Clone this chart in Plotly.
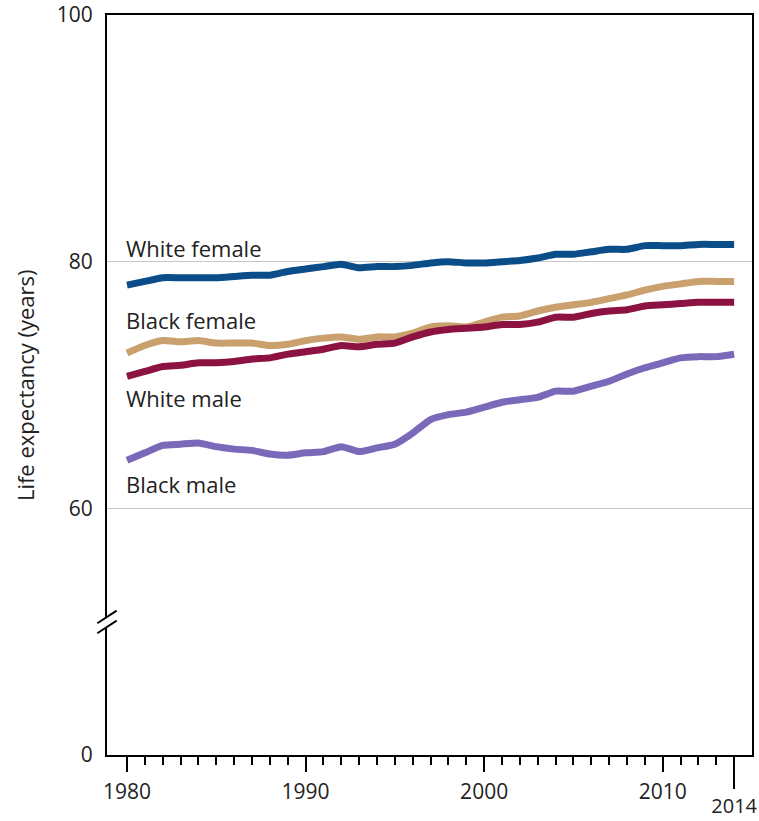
import plotly.graph_objects as go

years = list(range(1980, 2015))
white_female = [78.1, 78.4, 78.7, 78.7, 78.7, 78.7, 78.8, 78.9, 78.9, 79.2,
                79.4, 79.6, 79.8, 79.5, 79.6, 79.6, 79.7, 79.9, 80.0, 79.9,
                79.9, 80.0, 80.1, 80.3, 80.6, 80.6, 80.8, 81.0, 81.0, 81.3,
                81.3, 81.3, 81.4, 81.4, 81.4]
black_female = [72.6, 73.2, 73.6, 73.5, 73.6, 73.4, 73.4, 73.4, 73.2, 73.3,
                73.6, 73.8, 73.9, 73.7, 73.9, 73.9, 74.2, 74.7, 74.8, 74.7,
                75.1, 75.5, 75.6, 76.0, 76.3, 76.5, 76.7, 77.0, 77.3, 77.7,
                78.0, 78.2, 78.4, 78.4, 78.4]
white_male = [70.7, 71.1, 71.5, 71.6, 71.8, 71.8, 71.9, 72.1, 72.2, 72.5,
              72.7, 72.9, 73.2, 73.1, 73.3, 73.4, 73.9, 74.3, 74.5, 74.6,
              74.7, 74.9, 74.9, 75.1, 75.5, 75.5, 75.8, 76.0, 76.1, 76.4,
              76.5, 76.6, 76.7, 76.7, 76.7]
black_male = [63.9, 64.5, 65.1, 65.2, 65.3, 65.0, 64.8, 64.7, 64.4, 64.3,
              64.5, 64.6, 65.0, 64.6, 64.9, 65.2, 66.1, 67.2, 67.6, 67.8,
              68.2, 68.6, 68.8, 69.0, 69.5, 69.5, 69.9, 70.3, 70.9, 71.4,
              71.8, 72.2, 72.3, 72.3, 72.5]

series_names = ["White female", "Black female", "White male", "Black male"]
series_values = [white_female, black_female, white_male, black_male]
series_colors = ["#0b4d88", "#c9a06e", "#8c1242", "#7a68b9"]
label_y = [81.1, 75.3, 68.95, 62.0]

# Broken axis: the "0" label sits where 40 would be on the linear scale
ytick_vals = [40, 60, 80, 100]
ytick_text = ["0", "60", "80", "100"]
xtick_vals = [1980, 1990, 2000, 2010]
last_year = [2014]

FONT = "Open Sans, Noto Sans, sans-serif"

fig = go.Figure()
for name, vals, col in zip(series_names, series_values, series_colors):
    fig.add_trace(go.Scatter(x=years, y=vals, mode="lines", name=name,
                             line=dict(color=col, width=7, shape="spline", smoothing=0.5),
                             showlegend=False, hoverinfo="skip"))

fig.add_trace(go.Scatter(x=last_year, y=[None], xaxis="x2", yaxis="y",
                         mode="markers", showlegend=False, hoverinfo="skip"))

for name, yv in zip(series_names, label_y):
    fig.add_annotation(x=1979.85, y=yv, xref="x", yref="y", text=name,
                       showarrow=False, xanchor="left", yanchor="middle",
                       font=dict(family=FONT, size=22, color="#222222"))

fig.add_annotation(x=-0.127, y=0.5, xref="paper", yref="paper",
                   text="Life expectancy (years)", textangle=-90,
                   showarrow=False, xanchor="center", yanchor="middle",
                   font=dict(family=FONT, size=22, color="#222222"))

xrange = [1978.88, 2015.0]
fig.update_layout(
    width=759, height=821,
    margin=dict(l=107, r=7, t=15, b=66, autoexpand=False),
    paper_bgcolor="white", plot_bgcolor="white",
    font=dict(family=FONT, size=21, color="#222222"),
    xaxis=dict(range=xrange, showline=True, linecolor="black", linewidth=2,
               mirror=True, showgrid=False, zeroline=False, automargin=False,
               tickmode="array", tickvals=xtick_vals,
               ticks="outside", ticklen=15, tickwidth=2, tickcolor="black",
               ticklabelstandoff=2, tickfont=dict(size=21),
               minor=dict(tickmode="array", tickvals=list(range(1981, 2014)),
                          ticks="outside", ticklen=8, tickwidth=2,
                          tickcolor="black", showgrid=False)),
    xaxis2=dict(range=xrange, overlaying="x", side="bottom", anchor="y",
                showline=False, showgrid=False, zeroline=False, automargin=False,
                tickmode="array", tickvals=last_year,
                ticktext=[str(v) for v in last_year], tickfont=dict(size=20),
                ticks="outside", ticklen=33, tickwidth=2, tickcolor="black",
                ticklabelstandoff=0),
    yaxis=dict(range=[40, 100], showline=True, linecolor="black", linewidth=2,
               mirror=True, zeroline=False, showgrid=True, automargin=False,
               gridcolor="#c8c8c8", gridwidth=1, tickfont=dict(size=21),
               tickmode="array", tickvals=ytick_vals, ticktext=ytick_text,
               ticks="", ticklabelstandoff=8),
)

# axis break marks
fig.add_shape(type="rect", xref="paper", yref="paper",
              x0=-0.006, x1=0.006, y0=0.173, y1=0.1865,
              fillcolor="white", line=dict(width=0), layer="above")
for y0, y1 in [(0.178, 0.195), (0.1645, 0.1815)]:
    fig.add_shape(type="line", xref="paper", yref="paper",
                  x0=-0.015, x1=0.015, y0=y0, y1=y1,
                  line=dict(color="black", width=2), layer="above")

fig.write_html("out.html", config={"displayModeBar": False},
               post_script="document.body.style.margin='0';"
                           "document.body.style.overflow='hidden';")
